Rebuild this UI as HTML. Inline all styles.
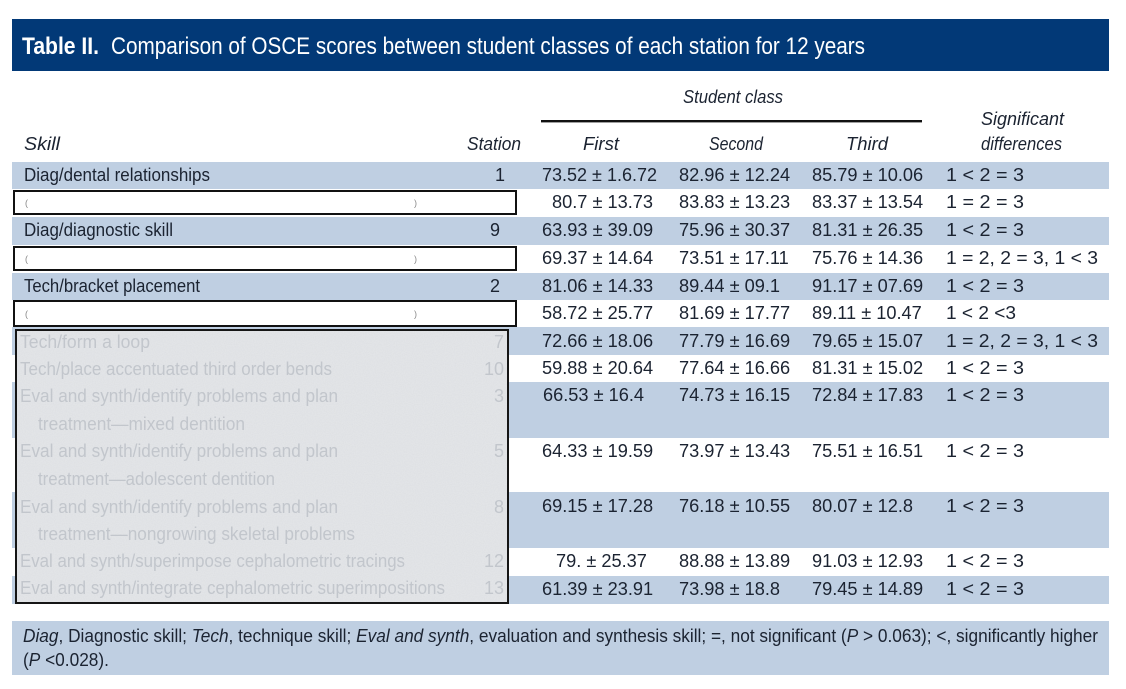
<!DOCTYPE html>
<html>
<head>
<meta charset="utf-8">
<style>
  html,body{margin:0;padding:0;background:#ffffff;}
  svg{display:block;}
  .t{font-family:"Liberation Sans",sans-serif;fill:#1b2331;}
  .d{font-family:"Liberation Sans",sans-serif;fill:#1b2331;font-size:18.2px;}
  .i{font-style:italic;}
  .g{font-family:"Liberation Sans",sans-serif;fill:#c2c6cc;font-size:18px;}
</style>
</head>
<body>
<svg width="1126" height="689" viewBox="0 0 1126 689" xmlns="http://www.w3.org/2000/svg">
  <defs>
    <filter id="noise" x="0" y="0" width="100%" height="100%">
      <feTurbulence type="fractalNoise" baseFrequency="0.9" numOctaves="2" seed="7" result="t"/>
      <feColorMatrix in="t" type="matrix" values="0 0 0 0 0.55  0 0 0 0 0.56  0 0 0 0 0.58  0 0 0 -0.9 0.55"/>
    </filter>
  </defs>
  <rect x="0" y="0" width="1126" height="689" fill="#ffffff"/>

  <!-- Title bar -->
  <rect x="12" y="19" width="1097" height="52" fill="#023977"/>
  <text x="22" y="54" font-family="Liberation Sans, sans-serif" font-weight="bold" font-size="24" fill="#ffffff" textLength="77" lengthAdjust="spacingAndGlyphs">Table II.</text>
  <text x="111" y="54" font-family="Liberation Sans, sans-serif" font-size="24" fill="#ffffff" textLength="754" lengthAdjust="spacingAndGlyphs">Comparison of OSCE scores between student classes of each station for 12 years</text>

  <!-- Header -->
  <text class="t i" x="683" y="103" font-size="18" textLength="100" lengthAdjust="spacingAndGlyphs">Student class</text>
  <rect x="541" y="120" width="381" height="2.4" fill="#111111"/>
  <text class="t i" x="981" y="125" font-size="18" textLength="83" lengthAdjust="spacingAndGlyphs">Significant</text>
  <text class="t i" x="981" y="150" font-size="18" textLength="81" lengthAdjust="spacingAndGlyphs">differences</text>
  <text class="t i" x="24" y="150" font-size="18" textLength="36" lengthAdjust="spacingAndGlyphs">Skill</text>
  <text class="t i" x="467" y="150" font-size="18" textLength="54" lengthAdjust="spacingAndGlyphs">Station</text>
  <text class="t i" x="583" y="150" font-size="18" textLength="36" lengthAdjust="spacingAndGlyphs">First</text>
  <text class="t i" x="709" y="150" font-size="18" textLength="54" lengthAdjust="spacingAndGlyphs">Second</text>
  <text class="t i" x="846" y="150" font-size="18" textLength="42" lengthAdjust="spacingAndGlyphs">Third</text>

  <!-- Bands -->
  <g fill="#bfcfe2">
    <rect x="12" y="162" width="1097" height="27"/>
    <rect x="12" y="217" width="1097" height="28"/>
    <rect x="12" y="273" width="1097" height="27"/>
    <rect x="12" y="327" width="1097" height="28"/>
    <rect x="12" y="382" width="1097" height="56"/>
    <rect x="12" y="492" width="1097" height="56"/>
    <rect x="12" y="576" width="1097" height="28"/>
    <rect x="12" y="621" width="1097" height="54"/>
  </g>

  <!-- Skill labels (visible) -->
  <text class="t" x="24" y="181" font-size="18" textLength="186" lengthAdjust="spacingAndGlyphs">Diag/dental relationships</text>
  <text class="t" x="495" y="181" font-size="18">1</text>
  <text class="t" x="24" y="236" font-size="18" textLength="149" lengthAdjust="spacingAndGlyphs">Diag/diagnostic skill</text>
  <text class="t" x="490" y="236" font-size="18">9</text>
  <text class="t" x="24" y="292" font-size="18" textLength="176" lengthAdjust="spacingAndGlyphs">Tech/bracket placement</text>
  <text class="t" x="490" y="292" font-size="18">2</text>

  <!-- White boxed redactions -->
  <g fill="#ffffff" stroke="#111111" stroke-width="2">
    <rect x="14" y="191" width="502" height="23"/>
    <rect x="14" y="247" width="502" height="23"/>
    <rect x="14" y="301" width="502" height="25"/>
  </g>
  <g font-family="Liberation Sans, sans-serif" font-size="9" fill="#888888">
    <text x="25" y="206">(</text><text x="414" y="206">)</text>
    <text x="25" y="262">(</text><text x="414" y="262">)</text>
    <text x="25" y="317">(</text><text x="414" y="317">)</text>
  </g>

  <!-- Gray noisy box -->
  <rect x="16" y="330" width="492" height="273" fill="#e2e4e7"/>
  <rect x="16" y="330" width="492" height="273" filter="url(#noise)" opacity="0.35"/>
  <g class="g">
    <text x="20" y="348" textLength="130" lengthAdjust="spacingAndGlyphs">Tech/form a loop</text>
    <text x="494" y="348">7</text>
    <text x="20" y="375" textLength="312" lengthAdjust="spacingAndGlyphs">Tech/place accentuated third order bends</text>
    <text x="484" y="375">10</text>
    <text x="20" y="402" textLength="318" lengthAdjust="spacingAndGlyphs">Eval and synth/identify problems and plan</text>
    <text x="494" y="402">3</text>
    <text x="38" y="430" textLength="207" lengthAdjust="spacingAndGlyphs">treatment—mixed dentition</text>
    <text x="20" y="457" textLength="318" lengthAdjust="spacingAndGlyphs">Eval and synth/identify problems and plan</text>
    <text x="494" y="457">5</text>
    <text x="38" y="485" textLength="237" lengthAdjust="spacingAndGlyphs">treatment—adolescent dentition</text>
    <text x="20" y="513" textLength="318" lengthAdjust="spacingAndGlyphs">Eval and synth/identify problems and plan</text>
    <text x="494" y="513">8</text>
    <text x="38" y="540" textLength="317" lengthAdjust="spacingAndGlyphs">treatment—nongrowing skeletal problems</text>
    <text x="20" y="567" textLength="385" lengthAdjust="spacingAndGlyphs">Eval and synth/superimpose cephalometric tracings</text>
    <text x="484" y="567">12</text>
    <text x="20" y="594" textLength="425" lengthAdjust="spacingAndGlyphs">Eval and synth/integrate cephalometric superimpositions</text>
    <text x="484" y="594">13</text>
  </g>
  <rect x="16" y="330" width="492" height="273" fill="none" stroke="#151515" stroke-width="2"/>

  <!-- Data -->
  <g class="d">
    <text x="542" y="181" textLength="115" lengthAdjust="spacingAndGlyphs">73.52 ± 1.6.72</text>
    <text x="679" y="181">82.96 ± 12.24</text>
    <text x="812" y="181">85.79 ± 10.06</text>

    <text x="552" y="208">80.7 ± 13.73</text>
    <text x="679" y="208">83.83 ± 13.23</text>
    <text x="812" y="208">83.37 ± 13.54</text>

    <text x="542" y="236">63.93 ± 39.09</text>
    <text x="679" y="236">75.96 ± 30.37</text>
    <text x="812" y="236">81.31 ± 26.35</text>

    <text x="542" y="264">69.37 ± 14.64</text>
    <text x="679" y="264">73.51 ± 17.11</text>
    <text x="812" y="264">75.76 ± 14.36</text>

    <text x="542" y="292">81.06 ± 14.33</text>
    <text x="679" y="292">89.44 ± 09.1</text>
    <text x="812" y="292">91.17 ± 07.69</text>

    <text x="542" y="319">58.72 ± 25.77</text>
    <text x="679" y="319">81.69 ± 17.77</text>
    <text x="812" y="319">89.11 ± 10.47</text>

    <text x="542" y="347">72.66 ± 18.06</text>
    <text x="679" y="347">77.79 ± 16.69</text>
    <text x="812" y="347">79.65 ± 15.07</text>

    <text x="542" y="374">59.88 ± 20.64</text>
    <text x="679" y="374">77.64 ± 16.66</text>
    <text x="812" y="374">81.31 ± 15.02</text>

    <text x="543" y="401">66.53 ± 16.4</text>
    <text x="679" y="401">74.73 ± 16.15</text>
    <text x="812" y="401">72.84 ± 17.83</text>

    <text x="542" y="457">64.33 ± 19.59</text>
    <text x="679" y="457">73.97 ± 13.43</text>
    <text x="812" y="457">75.51 ± 16.51</text>

    <text x="542" y="512">69.15 ± 17.28</text>
    <text x="679" y="512">76.18 ± 10.55</text>
    <text x="812" y="512">80.07 ± 12.8</text>

    <text x="556" y="567">79. ± 25.37</text>
    <text x="679" y="567">88.88 ± 13.89</text>
    <text x="812" y="567">91.03 ± 12.93</text>

    <text x="542" y="595">61.39 ± 23.91</text>
    <text x="679" y="595">73.98 ± 18.8</text>
    <text x="812" y="595">79.45 ± 14.89</text>
  </g>

  <!-- Significant differences -->
  <g class="d">
    <text x="946" y="181" textLength="78" lengthAdjust="spacingAndGlyphs">1 &lt; 2 = 3</text>
    <text x="946" y="208" textLength="78" lengthAdjust="spacingAndGlyphs">1 = 2 = 3</text>
    <text x="946" y="236" textLength="78" lengthAdjust="spacingAndGlyphs">1 &lt; 2 = 3</text>
    <text x="946" y="264" textLength="152" lengthAdjust="spacingAndGlyphs">1 = 2, 2 = 3, 1 &lt; 3</text>
    <text x="946" y="292" textLength="78" lengthAdjust="spacingAndGlyphs">1 &lt; 2 = 3</text>
    <text x="946" y="319" textLength="70" lengthAdjust="spacingAndGlyphs">1 &lt; 2 &lt;3</text>
    <text x="946" y="347" textLength="152" lengthAdjust="spacingAndGlyphs">1 = 2, 2 = 3, 1 &lt; 3</text>
    <text x="946" y="374" textLength="78" lengthAdjust="spacingAndGlyphs">1 &lt; 2 = 3</text>
    <text x="946" y="401" textLength="78" lengthAdjust="spacingAndGlyphs">1 &lt; 2 = 3</text>
    <text x="946" y="457" textLength="78" lengthAdjust="spacingAndGlyphs">1 &lt; 2 = 3</text>
    <text x="946" y="512" textLength="78" lengthAdjust="spacingAndGlyphs">1 &lt; 2 = 3</text>
    <text x="946" y="567" textLength="78" lengthAdjust="spacingAndGlyphs">1 &lt; 2 = 3</text>
    <text x="946" y="595" textLength="78" lengthAdjust="spacingAndGlyphs">1 &lt; 2 = 3</text>
  </g>

  <!-- Footnote -->
  <text class="t" x="23" y="642" font-size="18" textLength="1075" lengthAdjust="spacingAndGlyphs"><tspan font-style="italic">Diag</tspan>, Diagnostic skill; <tspan font-style="italic">Tech</tspan>, technique skill; <tspan font-style="italic">Eval and synth</tspan>, evaluation and synthesis skill; =, not significant (<tspan font-style="italic">P</tspan> &gt; 0.063); &lt;, significantly higher</text>
  <text class="t" x="23" y="666" font-size="18" textLength="86" lengthAdjust="spacingAndGlyphs">(<tspan font-style="italic">P</tspan> &lt;0.028).</text>
</svg>
</body>
</html>
